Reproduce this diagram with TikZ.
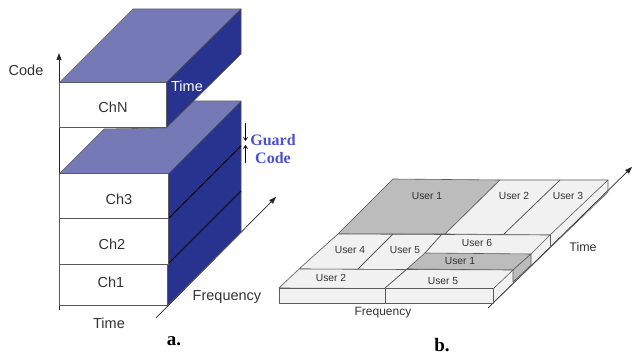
\documentclass[tikz,border=0pt]{standalone}
\usepackage{fontspec}
\setmainfont{Liberation Sans}
\newfontfamily\serifb{Liberation Serif}[Scale=1]
\usetikzlibrary{arrows.meta}
\definecolor{topblue}{HTML}{7579B6}
\definecolor{sideblue}{HTML}{28328F}
\definecolor{guardblue}{HTML}{4A50D0}
\definecolor{tile}{HTML}{F1F1F1}
\definecolor{darktile}{HTML}{BCBCBC}
\definecolor{tileline}{HTML}{5A5A5A}
\definecolor{txt}{HTML}{333333}
\tikzset{
  px/.style={x=1pt,y=-1pt},
  lab/.style={font=\fontsize{14.5}{16}\selectfont,text=txt,inner sep=0pt},
  userlab/.style={font=\fontsize{10.3}{12}\selectfont,text=txt,inner sep=0pt},
  caplab/.style={font=\serifb\bfseries\fontsize{19}{20}\selectfont,text=black,inner sep=0pt},
  guardlab/.style={font=\serifb\bfseries\fontsize{16}{17}\selectfont,text=guardblue,inner sep=0pt},
  frontbox/.style={fill=white,draw=black!65,line width=1pt},
  topface/.style={fill=topblue,draw=black!60,line width=0.6pt,line join=round},
  sideface/.style={fill=sideblue,draw=black!70,line width=0.6pt,line join=round},
  axisarrow/.style={draw=black!85,line width=0.7pt,-{Triangle[length=7pt,width=5pt]}},
  guardarrow/.style={draw=black,line width=0.7pt,-{Straight Barb[length=3pt,width=4pt]}},
  lighttile/.style={fill=tile,draw=tileline,line width=0.6pt,line join=round},
  greytile/.style={fill=darktile,draw=tileline,line width=0.6pt,line join=round},
  tilesep/.style={draw=tileline,line width=0.8pt},
}
\begin{document}
\begin{tikzpicture}[px]
\useasboundingbox (0,0) rectangle (633,355);
% ---- a: axes
\coordinate (codeS) at (59,310); \coordinate (codeE) at (59,53);
\coordinate (freqS) at (156,318); \coordinate (freqE) at (276,197);
\draw[axisarrow] (codeS) -- (codeE);
\draw[axisarrow] (freqS) -- (freqE);
% lower stack
\draw[sideface] (168,174) -- (241,101) -- (241,232) -- (167,306) -- cycle;
\draw[black,line width=0.9pt] (168,219) -- (241,146);
\draw[black,line width=0.9pt] (167,265) -- (241,191);
\draw[topface] (59,174) -- (104,129) -- (166,128) -- (194,101) -- (241,101) -- (168,174) -- cycle;
\draw[frontbox] (59,174) rectangle (168,219);
\draw[frontbox] (59,219) rectangle (168,265);
\draw[frontbox] (59,265) rectangle (167,306);
% top block
\draw[topface] (59,83) -- (133,9) -- (241,9) -- (166,83) -- cycle;
\draw[sideface] (166,83) -- (241,9) -- (241,54) -- (166,128) -- cycle;
\draw[frontbox] (59,83) rectangle (166,128);
% labels a
\node[lab] (code) at (26,70) {Code};
\node[lab] (chn) at (113,107) {ChN};
\node[lab,text=white] (timeA) at (187,86) {Time};
\node[lab] (ch3) at (119,199) {Ch3};
\node[lab] (ch2) at (112,244) {Ch2};
\node[lab] (ch1) at (111,282) {Ch1};
\node[lab] (freqA) at (227,297) {Frequency};
\node[lab] (timeB) at (109,323) {Time};
% guard
\coordinate (gd1) at (245.5,123); \coordinate (gd2) at (245.5,141);
\coordinate (gu1) at (245.5,163); \coordinate (gu2) at (245.5,145);
\draw[guardarrow] (gd1) -- (gd2);
\draw[guardarrow] (gu1) -- (gu2);
\node[guardlab] (guard) at (273,140) {Guard};
\node[guardlab] (gcode) at (273,158) {Code};
\node[caplab] (capa) at (174,341) {a.};
% ---- b
\coordinate (tS) at (488,308); \coordinate (tE) at (632,167);
\fill[tile] (279,288) -- (393,179) -- (608,180) -- (608,192) -- (493,303) -- (279,303) -- cycle;
\draw[axisarrow] (tS) -- (tE);
% top row
\draw[greytile] (393,179) -- (500,180) -- (445,234) -- (338,234) -- cycle;
\draw[lighttile] (500,180) -- (608,180) -- (550,235) -- (445,234) -- cycle;
\draw[tilesep] (560,180) -- (504,234);
% second row
\draw[lighttile] (338,234) -- (550,235) -- (531,254) -- (513,270) -- (299,269) -- cycle;
\draw[tilesep] (393,234) -- (358,269);
\draw[tilesep] (442,234) -- (425,253);
\draw[greytile] (425,253) -- (531,254) -- (513,270) -- (407,269) -- cycle;
% third row
\draw[lighttile] (299,269) -- (513,270) -- (493,289) -- (279,288) -- cycle;
\draw[tilesep] (407,269) -- (385,288);
% front face
\draw[lighttile] (279,288) rectangle (493,303);
\draw[tilesep] (385,288) -- (385,303);
% side steps
\draw[greytile] (513,270) -- (531,254) -- (531,265) -- (513,282) -- cycle;
\draw[tileline,line width=0.6pt] (550,235) -- (550,246);
\draw[tileline,line width=0.6pt] (608,180) -- (608,192) -- (493,303);
% labels b
\node[userlab] (u1a) at (427,196) {User 1};
\node[userlab] (u2a) at (514,196) {User 2};
\node[userlab] (u3a) at (568,196) {User 3};
\node[userlab] (u4) at (350,250) {User 4};
\node[userlab] (u5a) at (405,250) {User 5};
\node[userlab] (u6) at (477,243) {User 6};
\node[userlab] (u1b) at (460,261) {User 1};
\node[userlab] (u2b) at (331,278) {User 2};
\node[userlab] (u5b) at (443,281) {User 5};
\node[font=\fontsize{12}{14}\selectfont,text=txt,inner sep=0pt] (freqB) at (383,313) {Frequency};
\node[font=\fontsize{12.5}{14}\selectfont,text=txt,inner sep=0pt] (timeC) at (583,247) {Time};
\node[caplab] (capb) at (442,345) {b.};
\end{tikzpicture}
\end{document}
